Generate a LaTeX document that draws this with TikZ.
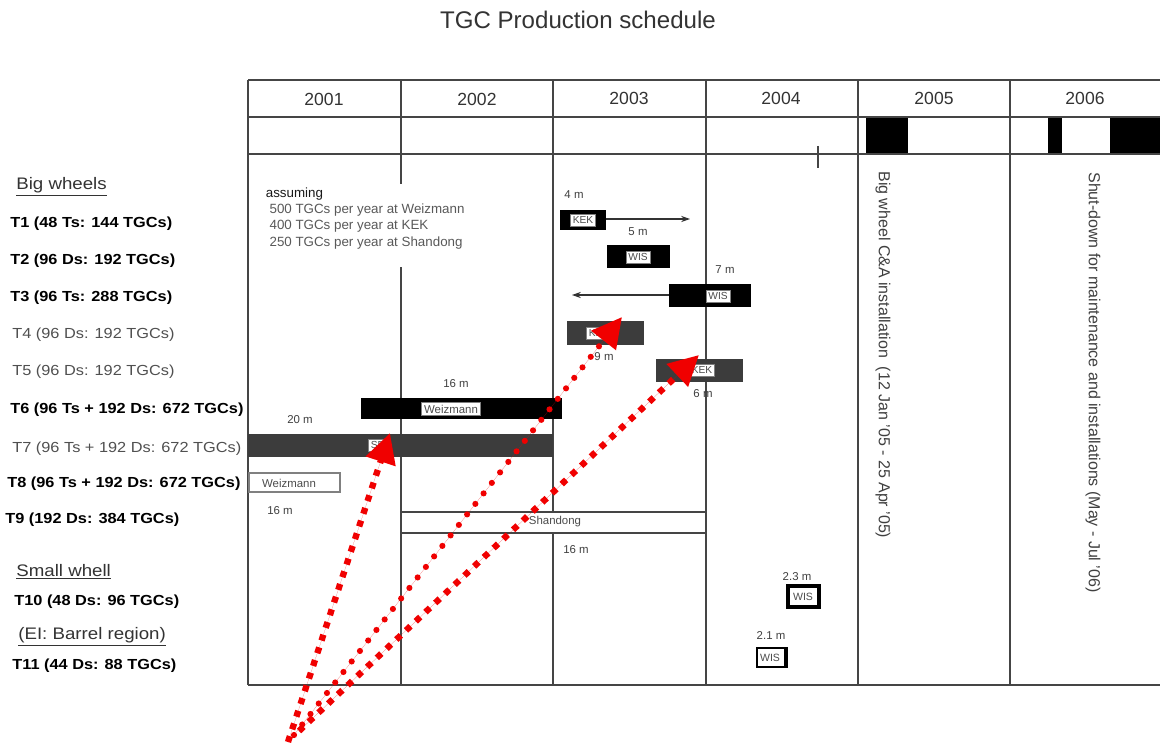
\documentclass[tikz,border=0pt]{standalone}
\usepackage{fontspec}
\setmainfont{Liberation Sans}
\newfontfamily\widesans[FakeStretch=1.12]{Liberation Sans}
\usetikzlibrary{arrows.meta}
\definecolor{gridc}{HTML}{454545}
\definecolor{darkbar}{HTML}{3C3C3C}
\definecolor{txtgray}{HTML}{505050}
\definecolor{redc}{HTML}{F00000}
\begin{document}
\begin{tikzpicture}[x=0.02cm,y=-0.02cm,
  gridline/.style={draw=gridc, line width=1.1pt},
  rowlab/.style={anchor=west, font=\widesans\fontsize{8.3}{9}\selectfont\bfseries, inner sep=0pt},
  rowlabl/.style={anchor=west, font=\widesans\fontsize{8.3}{9}\selectfont, text=txtgray, inner sep=0pt},
  grp/.style={anchor=west, font=\widesans\fontsize{9.5}{10}\selectfont, text=black!80, inner sep=0pt},
  dur/.style={font=\fontsize{6.5}{7}\selectfont, text=black!75, inner sep=0pt},
  tag/.style={fill=white, draw=gray, line width=0.4pt, font=\fontsize{5.8}{6}\selectfont, inner sep=1.4pt, text=black!70},
  year/.style={font=\fontsize{10}{11}\selectfont, text=black!80},
  vtext/.style={rotate=-90, anchor=west, font=\fontsize{9.1}{10}\selectfont, text=black!75, inner sep=0pt},
  blackarrow/.style={draw=black!80, line width=0.6pt, -{Stealth[length=5pt,width=3.5pt]}},
  redtip/.style={-{Triangle[length=17pt,width=17pt]}, draw=redc, fill=redc},
  rounddots/.style={redtip, line width=3.5pt, line cap=round, dash pattern=on 0pt off 7.6pt},
  squaredots/.style={redtip, line width=3.6pt, line cap=butt, dash pattern=on 3.5pt off 4.1pt},
]
\useasboundingbox (0,0) rectangle (1160,753);
\fill[white] (0,0) rectangle (1160,753);

% title
\node[font=\fontsize{13.7}{15}\selectfont, text=black!80] (title) at (578,20) {TGC Production schedule};

% header black blocks
\fill[black] (866,118) rectangle (908,154);
\fill[black] (1048,118) rectangle (1062,154);
\fill[black] (1110,118) rectangle (1160,154);

% grid
\draw[gridline] (248,80) -- (1160,80);
\draw[gridline, line width=1.6pt] (248,117) -- (1160,117);
\draw[gridline] (248,154) -- (1160,154);
\draw[gridline, line width=1.4pt] (248,685) -- (1160,685);
\foreach \xx in {248,401,553,706,858,1010}{
  \draw[gridline] (\xx,80) -- (\xx,685);
}
\draw[gridline, line width=0.8pt] (818,146) -- (818,168);

% years
\node[year] (y1) at (324,99) {2001};
\node[year] (y2) at (477,99) {2002};
\node[year] (y3) at (629,98) {2003};
\node[year] (y4) at (781,98) {2004};
\node[year] (y5) at (934,98) {2005};
\node[year] (y6) at (1085,98) {2006};

% assumptions
\node[fill=white, anchor=north west, inner sep=2pt, align=left,
      font=\fontsize{7.6}{9.2}\selectfont, text=black!65] (assume) at (262,184)
  {\textcolor{black!90}{assuming}\\[0pt]
   \ 500 TGCs per year at Weizmann\\
   \ 400 TGCs per year at KEK\\
   \ 250 TGCs per year at Shandong\\[1pt]};

% row labels
\node[grp] (bw) at (16,187) {\underline{Big wheels}};
\node[rowlab] (l1) at (10,224) {T1 (48 Ts: 144 TGCs)};
\node[rowlab] (l2) at (10,261) {T2 (96 Ds: 192 TGCs)};
\node[rowlab] (l3) at (10,298) {T3 (96 Ts: 288 TGCs)};
\node[rowlabl] (l4) at (12,335) {T4 (96 Ds: 192 TGCs)};
\node[rowlabl] (l5) at (12,372) {T5 (96 Ds: 192 TGCs)};
\node[rowlab] (l6) at (10,410) {T6 (96 Ts + 192 Ds: 672 TGCs)};
\node[rowlabl] (l7) at (12,449) {T7 (96 Ts + 192 Ds: 672 TGCs)};
\node[rowlab] (l8) at (7,484) {T8 (96 Ts + 192 Ds: 672 TGCs)};
\node[rowlab] (l9) at (5,520) {T9 (192 Ds: 384 TGCs)};
\node[grp] (sw) at (16,572) {\underline{Small whell}};
\node[rowlab] (l10) at (14,602) {T10 (48 Ds: 96 TGCs)};
\node[grp] (ei) at (18,637) {\underline{(EI: Barrel region)}};
\node[rowlab] (l11) at (12,666) {T11 (44 Ds: 88 TGCs)};

% bars
\fill[black] (560,210) rectangle (606,230);
\node[tag] (t1) at (583,220) {KEK};
\coordinate (t1e) at (606,219);
\coordinate (t1a) at (690,219);
\draw[blackarrow] (t1e) -- (t1a);
\node[dur] (d1) at (574,195) {4 m};

\fill[black] (607,245) rectangle (670,268);
\node[tag] (t2) at (638,257) {WIS};
\node[dur] (d2) at (638,232) {5 m};

\fill[black] (669,284) rectangle (751,307);
\node[tag] (t3) at (718,296) {WIS};
\coordinate (t3e) at (669,295);
\coordinate (t3a) at (572,295);
\draw[blackarrow] (t3e) -- (t3a);
\node[dur] (d3) at (725,270) {7 m};

\fill[darkbar] (567,321) rectangle (644,345);
\node[tag] (t4) at (599,333) {KEK};
\node[dur] (d4) at (604,357) {9 m};

\fill[darkbar] (656,359) rectangle (743,382);
\node[tag] (t5) at (702,370) {KEK};
\node[dur] (d5) at (703,394) {6 m};

\fill[black] (361,398) rectangle (562,419);
\node[tag, font=\fontsize{6.5}{7}\selectfont] (t6) at (451,409) {Weizmann};
\node[dur] (d6) at (456,384) {16 m};

\fill[darkbar] (248,434) rectangle (553,457);
\node[tag] (t7) at (378,445) {SD};
\node[dur] (d7) at (300,420) {20 m};

\draw[draw=gray, line width=0.8pt, fill=white] (249,473) rectangle (340,492);
\node[font=\fontsize{6.5}{7}\selectfont, text=black!70, inner sep=0pt] (t8) at (289,483) {Weizmann};
\node[dur] (d8) at (280,511) {16 m};

\draw[draw=gridc, line width=1.1pt, fill=white] (401,512) rectangle (706,533);
\node[font=\fontsize{6.5}{7}\selectfont, text=black!70, inner sep=0pt] (t9) at (555,522) {Shandong};
\node[dur] (d9) at (576,550) {16 m};

\draw[black, line width=2pt, fill=white] (788,586) rectangle (819,607);
\node[font=\fontsize{6}{6}\selectfont, text=black!70, inner sep=0pt] (t10) at (803,597) {WIS};
\node[dur] (d10) at (797,577) {2.3 m};

\draw[black, line width=1.6pt, fill=white] (757,648) rectangle (787,667);
\fill[black] (784,648) rectangle (788,668);
\node[font=\fontsize{6}{6}\selectfont, text=black!70, inner sep=0pt] (t11) at (770,658) {WIS};
\node[dur] (d11) at (771,636) {2.1 m};

% rotated notes
\node[vtext] (n5) at (883,171) {Big wheel C\&A installation\ \ (12 Jan '05 - 25 Apr '05)};
\node[vtext] (n6) at (1093,172) {Shut-down for maintenance and installations (May - Jul '06)};

% red arrows
\coordinate (src1) at (288,742);
\coordinate (src2) at (294,735);
\coordinate (src3) at (299,731);
\coordinate (tip7) at (390,433);
\coordinate (tip4) at (622,317);
\coordinate (tip5) at (699,355);
\draw[squaredots] (src1) -- (tip7);
\draw[rounddots] (src2) -- (tip4);
\draw[squaredots] (src3) -- (tip5);
\end{tikzpicture}
\end{document}
